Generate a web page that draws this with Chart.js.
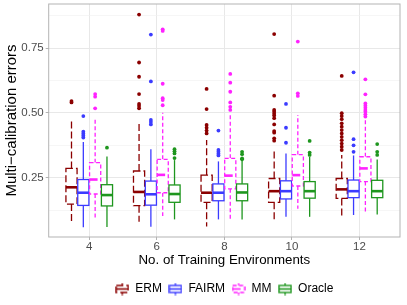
<!DOCTYPE html>
<html>
<head>
<meta charset="utf-8">
<script src="https://cdn.jsdelivr.net/npm/chart.js@4.4.1/dist/chart.umd.min.js"></script>
<style>
  html, body { margin: 0; padding: 0; background: #fff; }
</style>
</head>
<body>
<canvas id="chart" width="407" height="305"></canvas>
<script>
// categories on the x axis
const categories = ["4", "6", "8", "10", "12"];
const methods = ["ERM", "FAIRM", "MM", "Oracle"];
const yTicks = [0.125, 0.25, 0.375, 0.5, 0.625, 0.75, 0.875];

// box stats per group: [lower whisker, q1, median, q3, upper whisker]
const ermStats = [
  [0.080, 0.148, 0.213, 0.286, 0.477],
  [0.080, 0.142, 0.195, 0.276, 0.467],
  [0.062, 0.155, 0.192, 0.260, 0.396],
  [0.086, 0.155, 0.198, 0.247, 0.357],
  [0.102, 0.170, 0.205, 0.247, 0.338]
];
const fairmStats = [
  [0.059, 0.143, 0.192, 0.243, 0.388],
  [0.061, 0.144, 0.186, 0.237, 0.360],
  [0.089, 0.161, 0.192, 0.226, 0.313],
  [0.099, 0.168, 0.198, 0.238, 0.344],
  [0.106, 0.173, 0.198, 0.241, 0.336]
];
const mmStats = [
  [0.088, 0.187, 0.243, 0.308, 0.479],
  [0.102, 0.192, 0.261, 0.321, 0.501],
  [0.089, 0.207, 0.258, 0.325, 0.499],
  [0.130, 0.218, 0.260, 0.339, 0.492],
  [0.119, 0.235, 0.286, 0.331, 0.473]
];
const oracleStats = [
  [0.060, 0.141, 0.183, 0.223, 0.332],
  [0.089, 0.155, 0.187, 0.222, 0.318],
  [0.089, 0.161, 0.193, 0.226, 0.318],
  [0.099, 0.171, 0.198, 0.235, 0.331],
  [0.108, 0.173, 0.198, 0.240, 0.320]
];

// outliers per group
const ermOutliers = [
  [0.546, 0.541],
  [0.880, 0.695, 0.640, 0.573, 0.535, 0.527, 0.518],
  [0.593, 0.515, 0.454, 0.443, 0.432, 0.421],
  [0.805, 0.567, 0.512, 0.505, 0.497, 0.490, 0.480, 0.456, 0.430, 0.424, 0.402, 0.393],
  [0.643, 0.499, 0.488, 0.476, 0.460, 0.447, 0.434, 0.421, 0.408, 0.395, 0.382, 0.370, 0.357]
];
const fairmOutliers = [
  [0.488, 0.428, 0.420, 0.412, 0.405],
  [0.803, 0.622, 0.473, 0.465, 0.456],
  [0.432, 0.357, 0.350, 0.343, 0.336],
  [0.535, 0.443, 0.385],
  [0.657, 0.399, 0.375, 0.350]
];
const mmOutliers = [
  [0.573, 0.563, 0.518],
  [0.823, 0.817, 0.613, 0.557, 0.550, 0.530],
  [0.651, 0.617, 0.582, 0.541, 0.524, 0.512],
  [0.776, 0.576, 0.566],
  [0.630, 0.572, 0.537, 0.528, 0.520, 0.512, 0.505, 0.495, 0.486]
];
const oracleOutliers = [
  [0.366],
  [0.360, 0.352, 0.344, 0.326],
  [0.350, 0.341, 0.325, 0.321],
  [0.392, 0.347, 0.338],
  [0.380, 0.350, 0.338]
];

const allStats = [ermStats, fairmStats, mmStats, oracleStats];
const allOutliers = [ermOutliers, fairmOutliers, mmOutliers, oracleOutliers];
const colors = ["#8b0000", "#3b3bff", "#ff22ff", "#1e961e"];
const dashes = [[7, 3], [], [4, 2.5], []];
const offsets = [-0.2625, -0.0875, 0.0875, 0.2625];
const boxW = 0.165;

Chart.defaults.font.family = '"Liberation Sans", Arial, sans-serif';

const isMajor = v => Math.abs(v / 0.25 - Math.round(v / 0.25)) < 1e-6;

// little boxplot glyph for the legend
function makeKey(color, dash) {
  const c = document.createElement("canvas");
  c.width = 14;
  c.height = 13;
  const g = c.getContext("2d");
  g.strokeStyle = color;
  g.lineWidth = 1.4;
  g.setLineDash(dash);
  g.beginPath();
  g.moveTo(7, 0.5); g.lineTo(7, 3);
  g.moveTo(7, 10); g.lineTo(7, 12.5);
  g.stroke();
  g.strokeRect(1, 3, 12, 7);
  g.lineWidth = 1.6;
  g.setLineDash(dash.map(d => d * 2));
  g.beginPath();
  g.moveTo(1, 6.5); g.lineTo(13, 6.5);
  g.stroke();
  return c;
}
const keys = methods.map((m, i) => makeKey(colors[i], dashes[i]));

function seg(ctx, x1, y1, x2, y2) {
  ctx.beginPath();
  ctx.moveTo(x1, y1);
  ctx.lineTo(x2, y2);
  ctx.stroke();
}

const boxPlugin = {
  id: "boxes",
  beforeDatasetsDraw(chart) {
    const { ctx, scales: { x, y } } = chart;
    const half = (x.getPixelForValue(boxW) - x.getPixelForValue(0)) / 2;
    ctx.save();
    allStats.forEach((rows, m) => {
      rows.forEach((s, g) => {
        const cx = x.getPixelForValue(g + 1 + offsets[m]);
        const [lo, q1, med, q3, hi] = s.map(v => y.getPixelForValue(v));
        ctx.strokeStyle = colors[m];
        ctx.lineWidth = 1.3;
        ctx.setLineDash(dashes[m]);
        seg(ctx, cx, q3, cx, hi);
        seg(ctx, cx, q1, cx, lo);
        ctx.fillStyle = "#fff";
        ctx.fillRect(cx - half, q3, half * 2, q1 - q3);
        ctx.strokeRect(cx - half, q3, half * 2, q1 - q3);
        ctx.lineWidth = 2.6;
        ctx.setLineDash(dashes[m].map(d => d * 2));
        seg(ctx, cx - half, med, cx + half, med);
      });
    });
    ctx.restore();
  },
  afterDatasetsDraw(chart) {
    const { ctx, chartArea: a } = chart;
    ctx.save();
    ctx.strokeStyle = "#b3b3b3";
    ctx.lineWidth = 1;
    ctx.strokeRect(a.left, a.top, a.right - a.left, a.bottom - a.top);
    ctx.restore();
  }
};

new Chart(document.getElementById("chart"), {
  type: "scatter",
  data: {
    datasets: methods.map((m, i) => ({
      label: m,
      data: allOutliers[i].flatMap((vals, g) => vals.map(v => ({ x: g + 1 + offsets[i], y: v }))),
      pointRadius: 1.9,
      pointHoverRadius: 1.9,
      pointBorderWidth: 0,
      pointBackgroundColor: colors[i]
    }))
  },
  options: {
    responsive: false,
    animation: false,
    layout: { padding: { top: 4, right: 7, left: 3, bottom: 0 } },
    plugins: {
      tooltip: { enabled: false },
      legend: {
        position: "bottom",
        fullSize: false,
        labels: {
          usePointStyle: true,
          pointStyleWidth: 14,
          padding: 6.5,
          color: "#1a1a1a",
          font: { size: 12 },
          generateLabels: () => methods.map((m, i) => ({
            text: m,
            pointStyle: keys[i],
            fillStyle: "transparent",
            strokeStyle: "transparent",
            lineWidth: 0,
            hidden: false,
            datasetIndex: i
          }))
        }
      }
    },
    scales: {
      x: {
        type: "linear",
        min: 0.4,
        max: 5.6,
        afterBuildTicks: s => { s.ticks = categories.map((c, i) => ({ value: i + 1 })); },
        afterFit: s => { s.height = 39.5; s.paddingLeft = 0; s.paddingRight = 0; },
        ticks: {
          callback: v => categories[Math.round(v) - 1],
          color: "#4d4d4d",
          font: { size: 11.5 },
          padding: 0,
          maxRotation: 0,
          autoSkip: false
        },
        grid: { color: "#e8e8e8", tickColor: "#b3b3b3", tickLength: 3, lineWidth: 1 },
        border: { display: false },
        title: {
          display: true,
          text: "No. of Training Environments",
          color: "#000",
          font: { size: 13.3 },
          padding: { top: 0, bottom: 8.5 }
        }
      },
      y: {
        min: 0.021,
        max: 0.921,
        afterBuildTicks: s => { s.ticks = yTicks.map(v => ({ value: v })); },
        afterFit: s => { s.width = 45.7; s.paddingTop = 0; s.paddingBottom = 0; },
        ticks: {
          callback: v => (isMajor(v) ? v.toFixed(2) : ""),
          color: "#4d4d4d",
          font: { size: 11.5 },
          padding: 2
        },
        grid: {
          color: c => (c.tick && isMajor(c.tick.value) ? "#e8e8e8" : "#f0f0f0"),
          lineWidth: c => (c.tick && isMajor(c.tick.value) ? 1 : 0.6),
          tickColor: c => (c.tick && isMajor(c.tick.value) ? "#b3b3b3" : "rgba(0,0,0,0)"),
          tickLength: 3
        },
        border: { display: false },
        title: {
          display: true,
          text: "Multi−calibration errors",
          color: "#000",
          font: { size: 15 },
          padding: { top: 0, bottom: 0 }
        }
      }
    }
  },
  plugins: [boxPlugin]
});
</script>
</body>
</html>
